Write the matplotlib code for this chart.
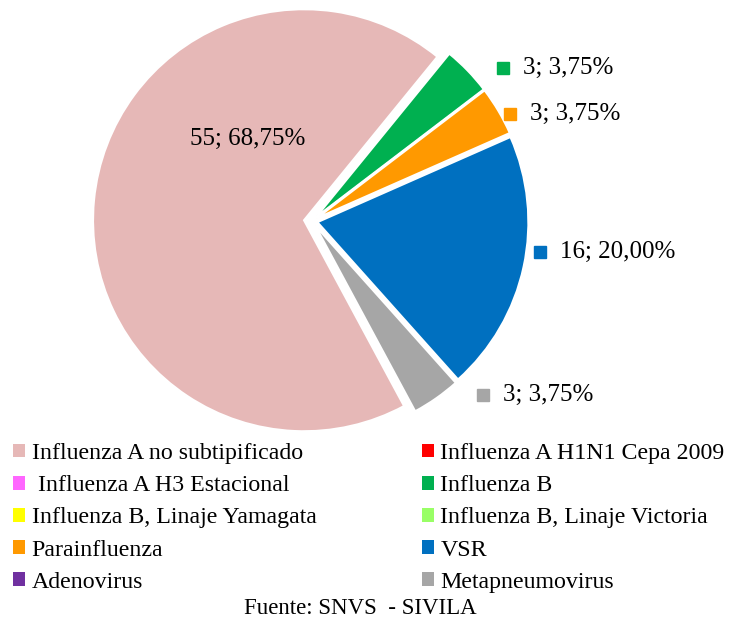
import matplotlib.pyplot as plt
from matplotlib.patches import Patch

# datos del grafico (orden de las porciones, en sentido horario)
categorias = ['Influenza A no subtipificado', 'Influenza A H1N1 Cepa 2009',
              ' Influenza A H3 Estacional', 'Influenza B',
              'Influenza B, Linaje Yamagata', 'Influenza B, Linaje Victoria',
              'Parainfluenza', 'VSR', 'Adenovirus', 'Metapneumovirus']
casos = [55, 0, 0, 3, 0, 0, 3, 16, 0, 3]
colores = ['#E6B8B7', '#FF0000', '#FF66FF', '#00B050', '#FFFF00',
           '#99FF66', '#FF9900', '#0070C0', '#7030A0', '#A6A6A6']

# posiciones de las etiquetas de datos (pixeles de la imagen)
pos_etiquetas = {0: (190, 139), 3: (503, 68), 6: (510, 114), 7: (540, 252), 9: (483, 395)}

W, H = 734, 619
plt.rcParams['font.family'] = ['Liberation Serif', 'DejaVu Serif']

fig = plt.figure(figsize=(W / 100, H / 100), dpi=100)
ax = fig.add_axes([0, 0, 1, 1])
ax.set_xlim(0, W)
ax.set_ylim(0, H)
ax.set_aspect('equal')
ax.axis('off')

explode = [8 if i == 0 else (5.5 if v > 0 else 0) for i, v in enumerate(casos)]
wedges, _ = ax.pie(casos, colors=colores, explode=explode, startangle=-61.7,
                   counterclock=False, radius=211, center=(312, H - 221),
                   wedgeprops=dict(edgecolor='white', linewidth=1.5),
                   frame=True)
ax.axis('off')

total = sum(casos)
fs = 18
for i, (px, py) in pos_etiquetas.items():
    txt = f'{casos[i]}; {100 * casos[i] / total:.2f}%'.replace('.', ',')
    if i == 0:
        ax.text(px, H - py, txt, fontsize=fs, va='center', ha='left')
    else:
        ax.plot(px, H - py, marker='s', markersize=8.5, color=colores[i], linestyle='none')
        ax.text(px + 20, H - py, txt, fontsize=fs, va='center', ha='left')

# leyenda en dos columnas, orden por filas
handles = [Patch(facecolor=c, edgecolor='none') for c in colores]
orden = list(range(0, 10, 2)) + list(range(1, 10, 2))
fs_ley = 17.2
fig.legend([handles[i] for i in orden], [categorias[i] for i in orden],
           ncol=2, loc='upper left', bbox_to_anchor=(13 / W, 1 - 443 / H),
           frameon=False, fontsize=fs_ley, handlelength=0.52, handleheight=0.52,
           handletextpad=0.26, labelspacing=0.47, borderpad=0, borderaxespad=0,
           columnspacing=4.4)

fig.text(360 / W, 1 - 608 / H, 'Fuente: SNVS  - SIVILA', fontsize=16.5,
         ha='center', va='center')

fig.savefig('out.png', dpi=100)
